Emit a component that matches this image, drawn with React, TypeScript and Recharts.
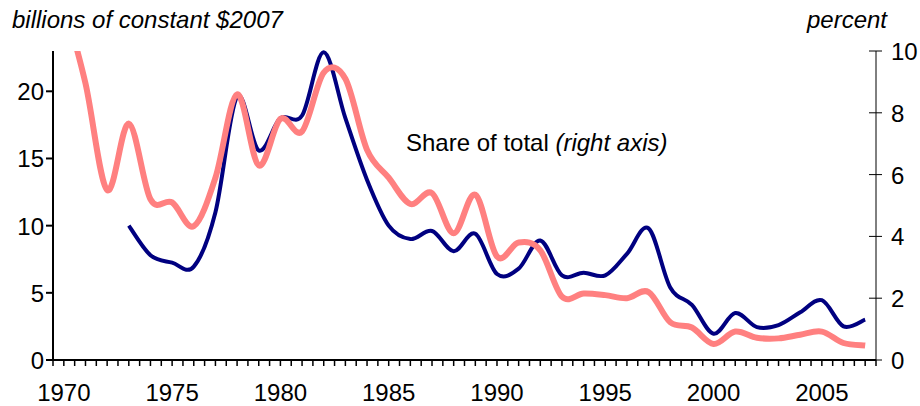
import React from 'react'
import { LineChart, Line, XAxis, YAxis } from 'recharts'

// annual values, 1970-2007
const years = [
  1970, 1971, 1972, 1973, 1974, 1975, 1976, 1977, 1978, 1979,
  1980, 1981, 1982, 1983, 1984, 1985, 1986, 1987, 1988, 1989,
  1990, 1991, 1992, 1993, 1994, 1995, 1996, 1997, 1998, 1999,
  2000, 2001, 2002, 2003, 2004, 2005, 2006, 2007,
]
// billions of constant $2007 (left axis)
const billions = [
  null, null, null, 10.0, 7.8, 7.25, 6.95, 11.0, 19.6, 15.6,
  18.0, 18.2, 22.9, 18.0, 13.4, 10.0, 9.0, 9.6, 8.1, 9.4,
  6.4, 6.8, 8.9, 6.3, 6.5, 6.3, 7.9, 9.8, 5.4, 4.1,
  1.95, 3.5, 2.45, 2.6, 3.55, 4.45, 2.5, 3.0,
]
// share of total, percent (right axis)
const share = [
  11.6, 8.95, 5.5, 7.65, 5.2, 5.1, 4.33, 5.9, 8.6, 6.3,
  7.8, 7.4, 9.3, 9.1, 6.8, 5.9, 5.05, 5.4, 4.1, 5.35,
  3.35, 3.8, 3.55, 2.05, 2.15, 2.1, 2.0, 2.2, 1.22, 1.05,
  0.52, 0.92, 0.72, 0.7, 0.82, 0.92, 0.55, 0.47,
]
const yearLabels = [1970, 1975, 1980, 1985, 1990, 1995, 2000, 2005]
const leftTicks = [0, 5, 10, 15, 20]
const rightTicks = [0, 2, 4, 6, 8, 10]

const data = years.map((year, i) => ({ year, billions: billions[i], share: share[i] }))
// a tick at every year boundary and every year centre
const xTicks = [years[0] - 0.5, ...years.flatMap((y) => [y, y + 0.5])]

const FONT = '"Liberation Sans", Arial, sans-serif'

// Excel-like smoothed line (uniform Catmull-Rom through the points)
function smoothCurve(context: any) {
  let pts: [number, number][] = []
  return {
    areaStart() {},
    areaEnd() {},
    lineStart() { pts = [] },
    point(x: number, y: number) { pts.push([+x, +y]) },
    lineEnd() {
      const n = pts.length
      if (!n) return
      context.moveTo(pts[0][0], pts[0][1])
      for (let i = 0; i < n - 1; i++) {
        const p0 = pts[Math.max(i - 1, 0)]
        const p1 = pts[i]
        const p2 = pts[i + 1]
        const p3 = pts[Math.min(i + 2, n - 1)]
        context.bezierCurveTo(
          p1[0] + (p2[0] - p0[0]) / 6, p1[1] + (p2[1] - p0[1]) / 6,
          p2[0] - (p3[0] - p1[0]) / 6, p2[1] - (p3[1] - p1[1]) / 6,
          p2[0], p2[1],
        )
      }
    },
  }
}

function XTick({ x, y, payload }: any) {
  const v = payload.value
  return (
    <g>
      <line x1={x} x2={x} y1={y} y2={y + 6} stroke="#000" strokeWidth={1.5} />
      {yearLabels.includes(v) && (
        <text x={x} y={y + 41} textAnchor="middle" fontSize={24} fontFamily={FONT} fill="#000">{v}</text>
      )}
    </g>
  )
}

function LeftTick({ x, y, payload }: any) {
  return (
    <g>
      <line x1={x - 7} x2={x} y1={y} y2={y} stroke="#000" strokeWidth={2} />
      <text x={x - 9} y={y + 9} textAnchor="end" fontSize={24} fontFamily={FONT} fill="#000">{payload.value}</text>
    </g>
  )
}

function RightTick({ x, y, payload }: any) {
  return (
    <g>
      <line x1={x - 7} x2={x + 6} y1={y} y2={y} stroke="#000" strokeWidth={1} />
      <text x={x + 15} y={y + 9} textAnchor="start" fontSize={24} fontFamily={FONT} fill="#000">{payload.value}</text>
    </g>
  )
}

export default function App() {
  return (
    <div style={{ position: 'absolute', left: 0, top: 0, width: 920, height: 406, background: '#fff' }}>
      <LineChart width={920} height={406} data={data} margin={{ top: 51, right: 0, bottom: 0, left: 0 }}>
        <XAxis
          dataKey="year" type="number" domain={[1969.5, 2007.5]} ticks={xTicks} interval={0}
          height={46} tickSize={0} tickMargin={0} tick={<XTick />} tickLine={false}
          axisLine={{ stroke: '#000', strokeWidth: 2 }}
        />
        <YAxis
          yAxisId="left" orientation="left" domain={[0, 23]} ticks={leftTicks} interval={0}
          width={53} tickSize={0} tickMargin={0} tick={<LeftTick />} tickLine={false}
          axisLine={{ stroke: '#000', strokeWidth: 2 }}
        />
        <YAxis
          yAxisId="right" orientation="right" domain={[0, 10]} ticks={rightTicks} interval={0} allowDataOverflow
          width={44} tickSize={0} tickMargin={0} tick={<RightTick />} tickLine={false}
          axisLine={{ stroke: '#000', strokeWidth: 1 }}
        />
        <Line
          yAxisId="left" dataKey="billions" type={smoothCurve as any} stroke="#000080" strokeWidth={4}
          dot={false} activeDot={false} isAnimationActive={false}
        />
        <Line
          yAxisId="right" dataKey="share" type={smoothCurve as any} stroke="#FF8080" strokeWidth={6}
          dot={false} activeDot={false} isAnimationActive={false}
        />
        <text x={12} y={28} fontSize={24} fontStyle="italic" fontFamily={FONT} fill="#000">billions of constant $2007</text>
        <text x={887} y={28} fontSize={24} fontStyle="italic" fontFamily={FONT} fill="#000" textAnchor="end">percent</text>
        <text x={406} y={150.5} fontSize={24} fontFamily={FONT} fill="#000">
          Share of total <tspan fontStyle="italic">(right axis)</tspan>
        </text>
      </LineChart>
    </div>
  )
}
